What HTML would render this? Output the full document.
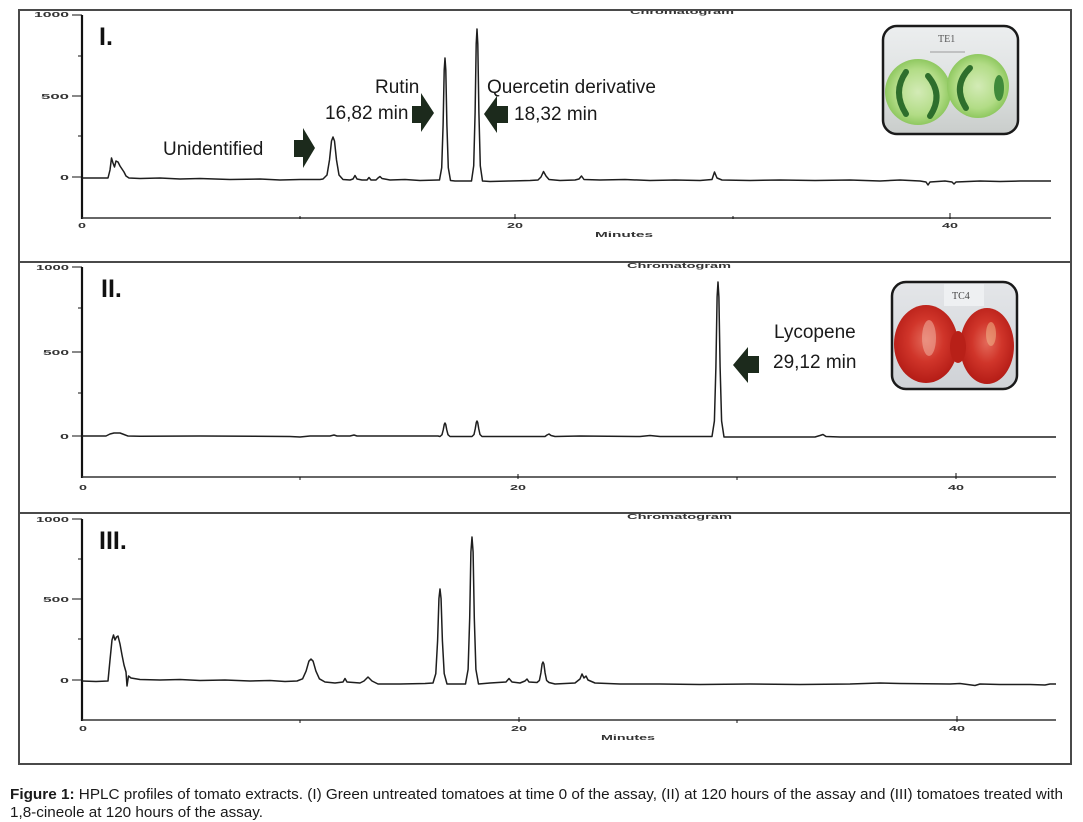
<!DOCTYPE html>
<html><head><meta charset="utf-8"><style>
html,body{margin:0;padding:0;background:#fff;}
svg{display:block;}
</style></head><body>
<svg width="1083" height="822" viewBox="0 0 1083 822" xmlns="http://www.w3.org/2000/svg" font-family="Liberation Sans, Arial, sans-serif">
<defs>
<clipPath id="c1"><rect x="883" y="26" width="135" height="108" rx="14"/></clipPath>
<clipPath id="c2"><rect x="892" y="282" width="125" height="107" rx="14"/></clipPath>
<linearGradient id="g1" x1="0" y1="0" x2="0" y2="1"><stop offset="0" stop-color="#eceeef"/><stop offset="0.5" stop-color="#dfe2e2"/><stop offset="1" stop-color="#c9cdcb"/></linearGradient>
<linearGradient id="g2" x1="0" y1="0" x2="0" y2="1"><stop offset="0" stop-color="#e4e6e9"/><stop offset="1" stop-color="#cfd2d6"/></linearGradient>
<radialGradient id="gg" cx="0.5" cy="0.5" r="0.5"><stop offset="0" stop-color="#d3ebb6"/><stop offset="0.7" stop-color="#b2dc86"/><stop offset="1" stop-color="#8fc860"/></radialGradient>
<radialGradient id="rr" cx="0.5" cy="0.45" r="0.55"><stop offset="0" stop-color="#e46a5a"/><stop offset="0.5" stop-color="#d0352a"/><stop offset="1" stop-color="#b41c16"/></radialGradient>
</defs>
<rect width="1083" height="822" fill="#fff"/>

<g fill="#333" font-weight="bold" font-size="7">
<!-- Panel I axes labels -->
<text x="630" y="14" textLength="104" lengthAdjust="spacingAndGlyphs">Chromatogram</text>
</g>
<rect x="0" y="0" width="1083" height="10" fill="#fff"/>

<!-- frame -->
<rect x="19" y="10" width="1052" height="754" fill="none" stroke="#4a4a4a" stroke-width="2"/>
<line x1="19" y1="262" x2="1071" y2="262" stroke="#4a4a4a" stroke-width="2"/>
<line x1="19" y1="513" x2="1071" y2="513" stroke="#4a4a4a" stroke-width="2"/>

<g fill="#333" font-weight="bold" font-size="7">
<text x="34" y="17" textLength="35" lengthAdjust="spacingAndGlyphs">1000</text>
<text x="41" y="99" textLength="28" lengthAdjust="spacingAndGlyphs">500</text>
<text x="60" y="180" textLength="9" lengthAdjust="spacingAndGlyphs">0</text>
<text x="78" y="228" textLength="8" lengthAdjust="spacingAndGlyphs">0</text>
<text x="507" y="228" textLength="16" lengthAdjust="spacingAndGlyphs">20</text>
<text x="942" y="228" textLength="16" lengthAdjust="spacingAndGlyphs">40</text>
<text x="595" y="237" textLength="58" lengthAdjust="spacingAndGlyphs">Minutes</text>
<!-- Panel II -->
<text x="627" y="268" textLength="104" lengthAdjust="spacingAndGlyphs">Chromatogram</text>
<text x="36" y="270" textLength="33" lengthAdjust="spacingAndGlyphs">1000</text>
<text x="43" y="355" textLength="26" lengthAdjust="spacingAndGlyphs">500</text>
<text x="60" y="439" textLength="9" lengthAdjust="spacingAndGlyphs">0</text>
<text x="79" y="490" textLength="8" lengthAdjust="spacingAndGlyphs">0</text>
<text x="510" y="490" textLength="16" lengthAdjust="spacingAndGlyphs">20</text>
<text x="948" y="490" textLength="16" lengthAdjust="spacingAndGlyphs">40</text>
<!-- Panel III -->
<text x="627" y="519" textLength="105" lengthAdjust="spacingAndGlyphs">Chromatogram</text>
<text x="36" y="522" textLength="33" lengthAdjust="spacingAndGlyphs">1000</text>
<text x="43" y="602" textLength="26" lengthAdjust="spacingAndGlyphs">500</text>
<text x="60" y="683" textLength="9" lengthAdjust="spacingAndGlyphs">0</text>
<text x="79" y="731" textLength="8" lengthAdjust="spacingAndGlyphs">0</text>
<text x="511" y="731" textLength="16" lengthAdjust="spacingAndGlyphs">20</text>
<text x="949" y="731" textLength="16" lengthAdjust="spacingAndGlyphs">40</text>
<text x="601" y="740" textLength="54" lengthAdjust="spacingAndGlyphs">Minutes</text>
</g>

<!-- axes -->
<g stroke="#111" fill="none">
<line x1="82" y1="15" x2="82" y2="219" stroke-width="2.2"/>
<line x1="82" y1="218" x2="1051" y2="218" stroke-width="1.5" stroke="#333"/>
<path d="M72 15H82M72 96H82M72 177H82M78 56H82M78 136H82" stroke-width="1"/>
<path d="M300 216V219M515 214V219M733 216V219M950 213V219" stroke-width="1"/>

<line x1="82" y1="267" x2="82" y2="478" stroke-width="2.2"/>
<line x1="82" y1="477" x2="1056" y2="477" stroke-width="1.5" stroke="#333"/>
<path d="M72 267H82M72 352H82M72 436H82M78 308H82M78 393H82" stroke-width="1"/>
<path d="M300 477V480M518 474V479M737 477V480M956 473V479" stroke-width="1"/>

<line x1="82" y1="519" x2="82" y2="721" stroke-width="2.2"/>
<line x1="82" y1="720" x2="1056" y2="720" stroke-width="1.5" stroke="#333"/>
<path d="M72 519H82M72 599H82M72 680H82M78 559H82M78 639H82" stroke-width="1"/>
<path d="M300 720V723M519 717V722M737 720V723M957 716V722" stroke-width="1"/>
</g>

<!-- traces -->
<g fill="none" stroke="#1e1e1e" stroke-width="1.5" stroke-linejoin="round">
<polyline points="82,178 95,178 108,178 110,170 111.5,158 113,163 114.5,167 116,161 118,162 120,166 122,169 124,172 126,176 129,178 140,178.5 160,178 180,179 200,178.5 230,179.5 260,179 280,180 300,179.5 320,179.5 323,179 327,175 329.5,160 331.5,141 333,137 334.5,141 336.5,160 339,175 343,179.5 350,180 353,179 355,175.5 357,179 362,180 367,180 369,177.5 371,180 376,180 378,178 380,176.5 382,178.5 390,180 405,179.5 420,180.5 438,180 439.5,180 441.7,167.8 443.1,125 444.2,70 445,58 445.8,70 446.9,125 448.3,167.8 450.5,180.5 455,181 470,181 471.5,181 473.7,165.8 475.1,112.6 476.2,44 477,29 477.8,44 478.9,112.6 480.3,165.8 482.5,181 490,181.5 510,181 530,180.5 538,180 541,177 543.5,171.5 546,176 549,179.5 560,180.5 575,180 579,179 581.5,176 584,179.5 600,180 625,179.5 650,180.5 675,180 700,180.5 712,179.5 714.5,172 717,178 722,180 750,180.5 780,180 815,180.5 850,180 880,181 900,180 920,181 926,182 928,185 930,182 945,181 952,182 954,184 956,182 980,181 1000,181.5 1020,181 1051,181"/>
<polyline points="82,436 106,436 110,434 114,433 120,433 124,434.5 128,436 140,436.3 200,436 290,436.5 300,437 310,436 330,436 334,435 337,436 350,436 354,435 357,436 438,436 440,436.5 442,434.7 443.2,430 444.3,424.3 445,423 445.7,424.3 446.8,430 448,434.7 450,436.5 472,436.5 474,434.5 475.2,429 476.3,422.5 477,421 477.7,422.5 478.8,429 480,434.5 482,436.5 500,436.5 545,436.5 547,435 549,434 551,435.5 555,436.5 580,436 640,436.5 650,435.5 660,436.5 712,436.5 714.4,421 715.9,367 717.1,297 718,282 718.9,297 720.1,367 721.6,421 724,437 740,437 800,437 815,437 820,435.5 823,434.5 826,436.5 840,437 900,437 960,437 1000,437 1056,437"/>
<polyline points="82,681 96,681.5 108,681 110,660 112,640 113.5,635 115,640 116.5,637 118,636 120,644 122,655 124,665 126,672 127,686 128.5,676 131,678 140,679.5 160,680 180,679.5 200,680.5 225,680 250,681 270,680.5 285,681.5 297,681 302.6,678.8 306.1,671.1 308.9,661.2 311,659 313.1,661.2 315.9,671.1 319.4,678.8 325,682 335,683 343,682 345,678.5 347,682 360,683 364,681 368,677 372,681 378,684 400,684 425,683.5 433,683 435.8,673.6 437.6,640.7 438.95,598.4 440,589 441.05,598.4 442.4,640.7 444.2,673.6 447,684 460,684 465.5,684 468.1,669.4 469.7,618 470.9,552 472,537 473.1,552 474.3,618 475.9,669.4 478.5,684 490,683 506,682 509,678.5 512,682 520,683 525,681 527,679 529,682 537,682.5 539.4,680.4 540.9,673 542.1,664 543,662 543.9,664 545.1,673 546.6,680.4 549,682.5 555,684 575,683 580,679 582,674 584,678 586,676 588,680 595,683 620,684 660,684 700,684.5 750,684 800,684.5 850,684 880,683 900,683.5 950,684 960,683.5 975,685.5 980,684 1000,684.5 1030,684.5 1045,685 1050,684 1056,684"/>
</g>

<!-- arrows -->
<g fill="#1c2a1c">
<polygon points="294,140 303,140 303,128 315,148 303,168 303,157 294,157"/>
<polygon points="412,106 421,106 421,93 434,113 421,132 421,123 412,123"/>
<polygon points="508,106 497,106 497,96 484,114 497,133 497,123 508,123"/>
<polygon points="759,356 748,356 748,347 733,365 748,383 748,373 759,373"/>
</g>

<!-- labels -->
<g fill="#1a1a1a" font-size="19">
<text x="163" y="155">Unidentified</text>
<text x="375" y="93">Rutin</text>
<text x="325" y="119">16,82 min</text>
<text x="487" y="93">Quercetin derivative</text>
<text x="514" y="120">18,32 min</text>
<text x="774" y="338">Lycopene</text>
<text x="773" y="368">29,12 min</text>
</g>
<g fill="#111" font-size="25" font-weight="bold">
<text x="99" y="45">I.</text>
<text x="101" y="297">II.</text>
<text x="99" y="549">III.</text>
</g>

<!-- photo I -->
<g clip-path="url(#c1)">
<rect x="883" y="26" width="135" height="108" fill="url(#g1)"/>
<line x1="930" y1="52" x2="965" y2="52" stroke="#9a9a9a" stroke-width="1"/>
<text x="938" y="42" font-size="10" fill="#555" font-family="Liberation Serif, serif">TE1</text>
<ellipse cx="918" cy="92" rx="33" ry="33" fill="url(#gg)"/>
<ellipse cx="978" cy="86" rx="31" ry="32" fill="url(#gg)"/>
<g fill="none" stroke="#2e6e2c" stroke-width="6" stroke-linecap="round">
<path d="M906 72 Q892 92 906 114"/>
<path d="M928 76 Q944 95 930 116"/>
<path d="M970 68 Q952 86 966 108"/>
</g>
<ellipse cx="999" cy="88" rx="5" ry="13" fill="#3f8a3a"/>
</g>
<rect x="883" y="26" width="135" height="108" rx="14" fill="none" stroke="#1a1a1a" stroke-width="2.5"/>

<!-- photo II -->
<g clip-path="url(#c2)">
<rect x="892" y="282" width="125" height="107" fill="url(#g2)"/>
<rect x="944" y="284" width="40" height="22" fill="#eef0f2"/>
<text x="952" y="299" font-size="10" fill="#444" font-family="Liberation Serif, serif">TC4</text>
<ellipse cx="926" cy="344" rx="32" ry="39" fill="url(#rr)"/>
<ellipse cx="987" cy="346" rx="27" ry="38" fill="url(#rr)"/>
<ellipse cx="958" cy="347" rx="8" ry="16" fill="#b82018"/>
<ellipse cx="929" cy="338" rx="7" ry="18" fill="#f0b0a0" opacity="0.55"/>
<ellipse cx="991" cy="334" rx="5" ry="12" fill="#f2c090" opacity="0.5"/>
</g>
<rect x="892" y="282" width="125" height="107" rx="14" fill="none" stroke="#1a1a1a" stroke-width="2.5"/>

<!-- caption -->
<g fill="#1a1a1a" font-size="15">
<text x="10" y="799" textLength="1053" lengthAdjust="spacingAndGlyphs"><tspan font-weight="bold">Figure 1:</tspan> HPLC profiles of tomato extracts. (I) Green untreated tomatoes at time 0 of the assay, (II) at 120 hours of the assay and (III) tomatoes treated with</text>
<text x="10" y="817" textLength="253" lengthAdjust="spacingAndGlyphs">1,8-cineole at 120 hours of the assay.</text>
</g>
</svg>
</body></html>
